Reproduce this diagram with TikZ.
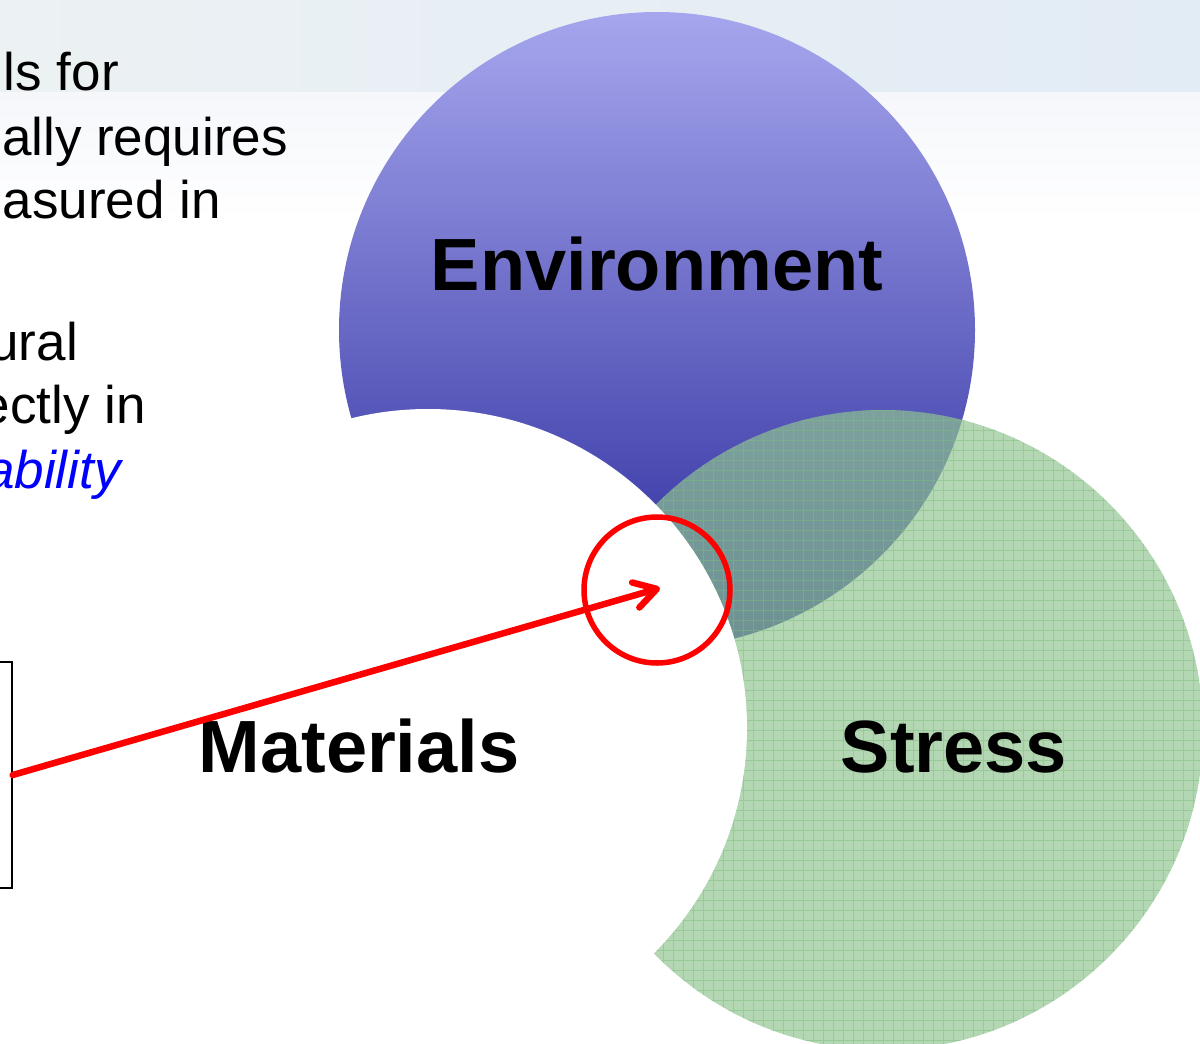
\documentclass[tikz,border=0pt]{standalone}
\usepackage{fontspec}
\setmainfont{Liberation Sans}
\usetikzlibrary{arrows.meta}

\definecolor{envtop}{RGB}{166,166,238}
\definecolor{envmid}{RGB}{120,120,206}
\definecolor{envbot}{RGB}{40,40,155}
\definecolor{stressgreen}{RGB}{143,196,143}
\definecolor{stressline}{RGB}{125,190,125}
\definecolor{hazeleft}{RGB}{236,241,243}
\definecolor{hazeright}{RGB}{226,236,245}
\definecolor{hazelow}{RGB}{245,247,251}

\begin{document}
\begin{tikzpicture}
[x=1pt,y=-1pt,
  setDecorate/.style={shape=circle,inner sep=0pt,minimum size=#1},
  labelDecorate/.style={font=\fontsize{74}{88}\selectfont\bfseries,anchor=base,inner sep=0pt},
  textDecorate/.style={font=\fontsize{53}{63}\selectfont,anchor=base east,inner sep=0pt},
  gridDecorate/.style={stressline,line width=0.7pt,draw opacity=0.5},
  markDecorate/.style={red,line width=5.5pt}]
\useasboundingbox (0,0) rectangle (1200,1044);
\clip (0,0) rectangle (1200,1044);
%% pale sky band along the top
\shade[left color=hazeleft,right color=hazeright] (0,0) rectangle (1200,92);
\shade[top color=hazelow,bottom color=white] (0,92) rectangle (1200,220);
%% the three sets
\node (env) at (657,330) [setDecorate=636pt,top color=envtop,middle color=envmid,bottom color=envbot] {};
\node (stress) at (883,730) [setDecorate=640pt,fill=stressgreen,fill opacity=0.68,
  path picture={\draw[gridDecorate] (path picture bounding box.south west) grid[step=10pt] (path picture bounding box.north east);}] {};
\node (mat) at (428,728) [setDecorate=638pt,fill=white] {};
%% set names
\node (envname) at (657,290) [labelDecorate] {Environment};
\node (matname) at (359,772) [labelDecorate] {Materials};
\node (stressname) at (954,772) [labelDecorate] {Stress};
%% text running in from the left
\foreach \name/\x/\y/\txt in {l1/119/90/ls for, l2/288/155/ally requires, l3/221/218/asured in, l4/78/360/ural, l5/146/423/ectly in}
{
  \node (\name) at (\x,\y) [textDecorate] {\txt};
}
\node (l6) at (121,488) [textDecorate,text=blue] {\itshape ability};
%% box and pointer
\node (box) at (0,775) [draw,line width=1.3pt,fill=white,minimum width=24pt,minimum height=226pt,inner sep=0pt] {};
\node (ring) at (657,590) [circle,draw,markDecorate,minimum size=146pt,inner sep=0pt] {};
\coordinate (tip) at (660,588);
\draw[markDecorate,line width=6.5pt,line cap=round,-{Straight Barb[length=22pt,width=26pt,round]}] (box.east) -- (tip);
\end{tikzpicture}
\end{document}
